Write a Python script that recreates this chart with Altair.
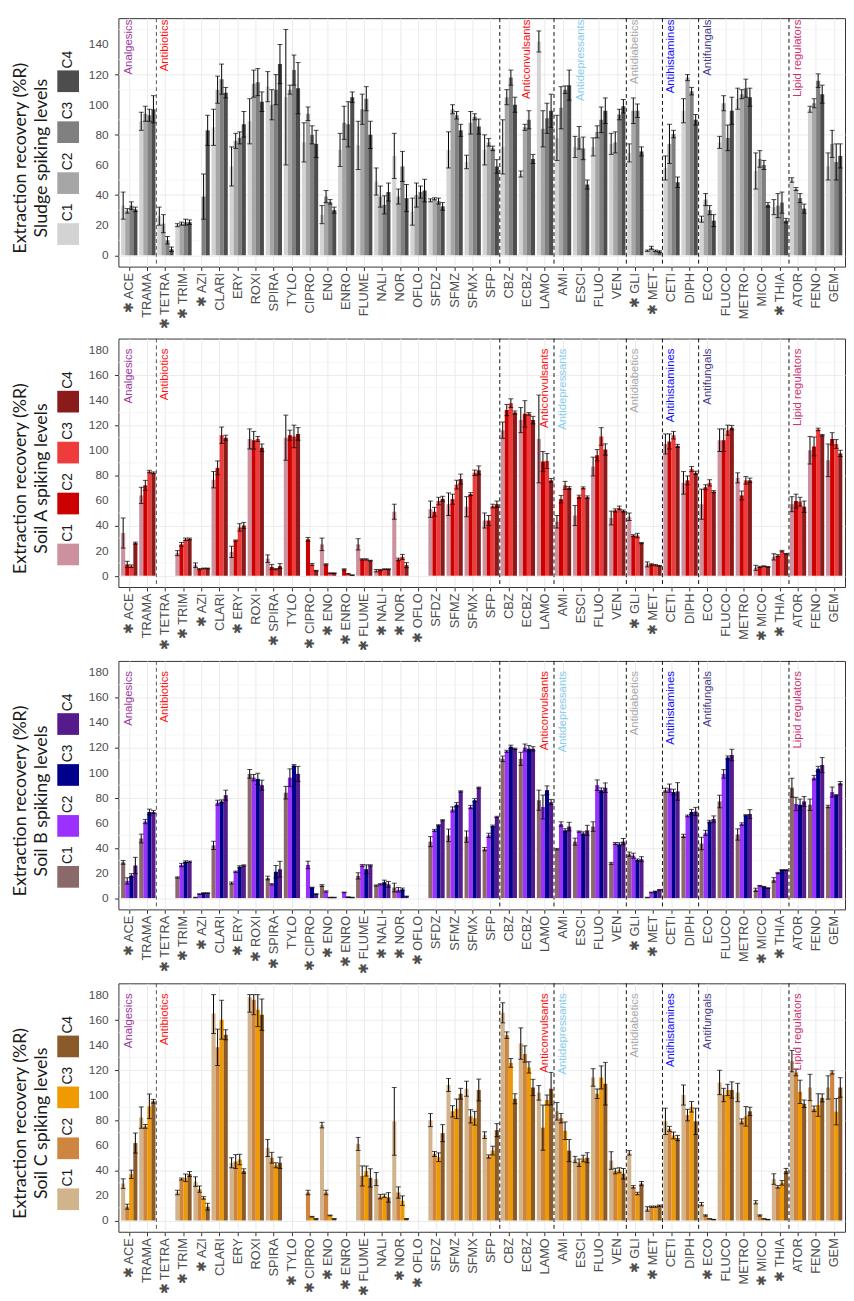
import altair as alt
import pandas as pd

COMPOUNDS = ["ACE", "TRAMA", "TETRA", "TRIM", "AZI", "CLARI", "ERY", "ROXI", "SPIRA", "TYLO",
             "CIPRO", "ENO", "ENRO", "FLUME", "NALI", "NOR", "OFLO", "SFDZ", "SFMZ", "SFMX",
             "SFP", "CBZ", "ECBZ", "LAMO", "AMI", "ESCI", "FLUO", "VEN", "GLI", "MET",
             "CETI", "DIPH", "ECO", "FLUCO", "METRO", "MICO", "THIA", "ATOR", "FENO", "GEM"]
LEVELS = ["C1", "C2", "C3", "C4"]

CLASS_NAMES = ["Analgesics", "Antibiotics", "Anticonvulsants", "Antidepressants",
               "Antidiabetics", "Antihistamines", "Antifungals", "Lipid regulators"]
CLASS_COLORS = ["#9C3A9C", "#FF1010", "#FF1010", "#87CEEB", "#A9A9A9", "#1010FF", "#483D8B", "#CD3278"]
CLASS_ANCHOR_SLUDGE = ["ACE", "TETRA", "ECBZ", "ESCI", "GLI", "CETI", "ECO", "ATOR"]
CLASS_ANCHOR_SOIL = ["ACE", "TETRA", "LAMO", "AMI", "GLI", "CETI", "ECO", "ATOR"]
BOUNDARIES = ["TETRA", "CBZ", "AMI", "GLI", "CETI", "ECO", "ATOR"]

# ---------------- Sludge ----------------
SLUDGE_C1 = [33, 89, 26, 20, None, 85, 59, 89, 112, 105, 75, 27, 70, 73, 49, 66, 29, 36.5, 70, 62,
             70, 72, 54, 142, 78, 72, 72, 74, 68, 3, 58, 96, 24, 75, 104, 56, 32, 50, 97, 59]
SLUDGE_C1_SD = [9, 6, 6, 1, None, 12, 13, 15, 10, 45, 13, 6, 11, 16, 9, 15, 9, 1, 12, 4.5,
                10, 18, 2, 7, 15, 7, 6, 7, 6, 0.5, 8, 8, 2, 4, 7, 12, 5, 1.5, 2, 9]
SLUDGE_C2 = [29.5, 94, 21, 21, None, 110, 76, 114, 100, 110, 94, 39, 88, 97, 39, 39, 40, 37.5, 97, 88,
             75, 105, 85, 84, 98, 78, 82, 75, 96, 5, 74, 118, 37, 101, 107, 64, 33, 44, 101, 74]
SLUDGE_C2_SD = [1.5, 5, 6, 1, None, 9, 5, 9, 10, 3, 4.5, 4, 11, 10, 7, 5, 8, 0.7, 3, 7.5,
                2.5, 5, 2, 12, 14, 7.5, 4, 7, 8.5, 1, 13, 2, 4, 5, 3, 5.5, 8, 1, 3, 9]
SLUDGE_C3 = [33, 93, 10, 22, 39, 117, 78, 115, 110, 123, 80, 35.5, 87, 104, 33.5, 59, 42, 36, 93, 92,
             71, 118, 90, 91, 110, 71, 90, 93.5, 96, 3, 80.5, 109, 30, 78, 111, 60, 35, 38, 116, 62]
SLUDGE_C3_SD = [2.5, 4, 2.5, 2, 15, 10, 4, 9, 10, 10, 6, 1.5, 15, 8, 6, 10, 4, 2, 2.5, 2,
                1.5, 5, 6, 10, 2.5, 7.5, 8.5, 3.5, 4.5, 0.5, 2.5, 2.5, 3, 8.5, 6, 3, 7, 3, 4.5, 12]
SLUDGE_C4 = [30.5, 97, 4, 22, 83, 108, 87, 102, 127, 111, 74, 30, 105, 80, 42, 38, 43, 32.5, 83, 85.5,
             59, 100, 64, 96, 113, 47, 96, 99, 69, 2.5, 48.5, 90, 23, 96, 105, 33.5, 23, 31, 107, 66]
SLUDGE_C4_SD = [1.5, 9, 1.5, 1.5, 10, 3.5, 8.5, 6.5, 13, 17, 9, 2, 3.5, 9, 6, 9, 7.5, 2.5, 4, 5,
                4.5, 5, 3, 11, 10, 3, 8.5, 4.5, 3, 0.5, 3.5, 3.5, 4, 9, 6, 1.5, 1.5, 3, 6, 8]
SLUDGE_STARS = ["ACE", "TETRA", "TRIM", "AZI", "GLI", "MET", "THIA"]
SLUDGE_COLORS = ["#D3D3D3", "#A6A6A6", "#808080", "#4D4D4D"]

# ---------------- Soil A ----------------
SOILA_C1 = [34, 64, None, 18, 8.4, 76.5, 19, 109, 13.6, 110, None, 25, None, 25, 4, 51, None, 53, 57, 55,
            44, 116, 124, 109, 43, 48, 87, 46, 47, 9, 105, 74, 57, 108, 78, 6.3, 15, 57, 100, 92]
SOILA_C1_SD = [12, 6.5, None, 2, 1.8, 6.5, 4.5, 8, 3, 18, None, 5, None, 4.5, 1, 6, None, 6.5, 9, 8,
               6, 6.5, 10, 35, 5, 8, 7.5, 5.5, 3, 2, 8, 9, 12, 9, 4, 2, 2.5, 6, 11, 13]
SOILA_C2 = [9, 72, None, 25, 5.2, 86, 28, 108, 7, 112, 29, 9, 5, 13, 4.5, 13, None, 51, 61, 65,
            44, 132, 129, 91, 61, 63, 96, 52, 32, 9, 107, 76, 70.5, 108, 64, 7, 16, 59.5, 103, 109]
SOILA_C2_SD = [2.5, 4, None, 1.5, 0.5, 5.5, 0.5, 7, 2, 4, 1.5, 0.5, 0.5, 0.5, 0.5, 1, None, 3.5, 4, 1.2,
               4, 4.5, 10.5, 8, 3, 1.2, 4.5, 1.3, 0.7, 0.5, 6, 3.5, 2, 9, 3.5, 0.5, 0.8, 5.5, 7.5, 5]
SOILA_C3 = [7.6, 83, None, 29, 5.8, 112, 38.5, 109, 5.2, 111, 9, 2, 1.5, 13, 5.2, 15, None, 59.5, 72.6, 82,
            55.5, 137.5, 129, 91.4, 72, 70, 111, 54, 32, 8.4, 112, 85, 74, 116, 76, 7.6, 19.6, 59, 116.6, 105]
SOILA_C3_SD = [1, 1, None, 1, 0.3, 6.5, 3, 2, 0.5, 9, 0.8, 0.3, 0.3, 0.5, 0.3, 2, None, 3, 3.5, 2.2,
               1.5, 3.5, 1, 6, 3.2, 0.8, 7, 1.5, 1.8, 0.5, 3, 2, 2.5, 4, 3, 0.3, 0.6, 3.5, 1, 3.5]
SOILA_C4 = [26, 82, None, 29.3, 5.8, 110, 40, 102, 7.6, 113, 4, 2, 0.5, 12, 5.2, 8.4, None, 61.3, 77, 84,
            57, 130, 124, 76, 70, 62.6, 100.6, 51.6, 26, 7.9, 103.5, 82, 67, 118, 76, 7, 17.5, 55, 112, 97.5]
SOILA_C4_SD = [0.8, 0.7, None, 0.7, 0.3, 2, 2.5, 3, 2, 5, 0.3, 0.3, 0.2, 0.3, 0.3, 2, None, 2, 4, 3.5,
               2.5, 1.3, 3, 1.5, 1, 1, 4.5, 0.8, 0.5, 0.3, 1.2, 1.3, 0.8, 1.8, 1.8, 0.3, 0.3, 4.5, 0.6, 2.5]
SOILA_STARS = ["ACE", "TETRA", "TRIM", "AZI", "ERY", "SPIRA", "CIPRO", "ENO", "ENRO", "FLUME",
               "NALI", "NOR", "OFLO", "GLI", "MET", "MICO", "THIA"]
SOILA_COLORS = ["#CD919E", "#CC0000", "#EE3B3B", "#8B1A1A"]

# ---------------- Soil B ----------------
SOILB_C1 = [28.5, 47.5, None, 16.4, 0.5, 42, 12, 99, 16, 84, None, 10, None, 17.7, 10, 8.4, None, 45, 50, 49,
            39, 111, 111, 78, 39, 45, 57, 27.7, 35, 0.5, 86, 49.6, 43.5, 77, 50.7, 6.6, 14.5, 88, 74.4, 73]
SOILB_C1_SD = [1.5, 3.5, None, 0.5, 0.2, 3.3, 0.8, 3.5, 1.5, 5, None, 0.7, None, 2.5, 0.5, 3.5, None, 4, 5, 4.5,
               1.3, 2.2, 5.2, 8, 0.6, 2.8, 3.8, 0.8, 1.7, 0.2, 1.6, 1.3, 5, 5, 4.5, 1.3, 1.8, 7.5, 4.5, 1]
SOILB_C2 = [13.7, 61, None, 26.4, 3.2, 76, 21, 96, 11, 96, 26.4, 5.3, 4.5, 26, 11, 6.6, None, 54, 70.7, 72.6,
            50, 117, 120, 72.6, 59, 53, 90, 43.5, 33.8, 4.5, 87.6, 65.5, 52, 99, 59, 9.8, 20, 75, 96, 84.5]
SOILB_C2_SD = [2.5, 1.7, None, 1.3, 0.3, 2, 0.5, 2.5, 0.5, 7, 3, 0.5, 0.3, 0.7, 0.5, 1.8, None, 0.8, 2, 1.3,
               1.7, 0.8, 2.8, 9.5, 1.8, 0.5, 4.2, 0.8, 2, 0.3, 3.3, 0.7, 2, 3.4, 1, 0.3, 0.5, 5.3, 1.8, 4]
SOILB_C3 = [18, 68.6, None, 29, 4, 77, 25, 95, 21, 105.6, 8.4, 0.5, 0.8, 23, 12.7, 7, None, 58, 74.4, 78,
            57.5, 120.6, 119, 86, 54, 51.5, 86, 42.8, 30.4, 5.3, 84.5, 68.6, 61, 112, 66, 9, 22.4, 74.4, 103, 82]
SOILB_C3_SD = [1.5, 2.3, None, 0.7, 0.3, 1.3, 0.8, 4.5, 5, 0.8, 0.3, 0.2, 0.2, 3.5, 1.6, 1, None, 0.5, 1.7, 1.3,
               0.7, 1.3, 2.6, 3.4, 1.3, 1.3, 1.8, 1.3, 0.8, 0.3, 2.3, 2.1, 1, 1.3, 0.5, 0.3, 0.3, 4.5, 2, 0.5]
SOILB_C4 = [26, 68.6, None, 29, 4, 82, 26, 90, 23, 99, 3.2, 0.5, 0.5, 26, 11, 1.3, None, 62, 85, 88,
            64.7, 119, 119, 76.5, 57, 54, 88, 45, 31, 6.6, 85, 69, 63, 114, 67, 8, 22.4, 77, 106, 91.6]
SOILB_C4_SD = [6.5, 1.3, None, 0.5, 0.3, 4, 0.5, 4, 6.3, 6, 0.3, 0.2, 0.2, 0.5, 2.3, 0.3, None, 0.5, 0.5, 0.5,
               0.5, 0.5, 1.7, 2, 3.4, 4, 3.8, 2.5, 2, 0.3, 7, 3.3, 2.5, 4.6, 3.5, 0.3, 0.3, 4, 6, 1.3]
SOILB_STARS = ["ACE", "TETRA", "TRIM", "AZI", "ERY", "ROXI", "SPIRA", "CIPRO", "ENO", "ENRO", "FLUME",
               "NALI", "NOR", "OFLO", "GLI", "MET", "MICO", "THIA"]
SOILB_COLORS = ["#8B6969", "#9B30FF", "#00008B", "#551A8B"]

# ---------------- Soil C ----------------
SOILC_C1 = [29.4, 82, None, 22.3, 31, 165, 46, 178, 57.8, None, None, 76, None, 61, 33, 79, None, 80, 108, 105,
            68, 165.5, 141, 101.7, 87, 48.6, 114, 47.8, 53.9, 9.2, 79, 100, 13, 110, 102, 14.5, 33, 127, 106, 106]
SOILC_C1_SD = [3.8, 8.5, None, 1.8, 3.8, 16, 4, 12, 6.8, None, None, 2.2, None, 5.2, 5.2, 27, None, 5.2, 5.2, 6,
               2.7, 8, 12.5, 5.8, 7, 2.5, 7, 7, 1.8, 1.8, 10.5, 8, 1.3, 9.7, 7.3, 1.3, 4.2, 8.5, 10.5, 9.3]
SOILC_C2 = [11, 75, None, 33, 25, 138, 47, 176, 50, None, 22.3, 22.3, None, 35.5, 19, 22.3, None, 53, 87, 83,
            51, 147.7, 132.7, 74, 81.5, 46, 101, 39.4, 26.8, 11, 73, 84, 4, 100, 79, 4, 26.8, 118, 89, 118]
SOILC_C2_SD = [2, 1.5, None, 0.8, 2.5, 14.5, 5.5, 12, 4.3, None, 1.8, 1.8, None, 8, 1.8, 4.5, None, 2, 4.5, 5.3,
               1.3, 2.6, 6.5, 18, 3.8, 3, 3.8, 2.2, 1, 0.5, 2, 4.6, 0.5, 5.3, 2, 0.5, 1, 2.7, 2.2, 1.3]
SOILC_C3 = [36.8, 91, None, 34, 18, 160, 48.6, 168, 44, None, 3, 4, None, 39.4, 19.7, 15.8, None, 50.4, 89, 81.5,
            55.7, 125.6, 122, 96, 71.5, 49.4, 114, 40, 21.5, 11, 67.8, 90.6, 1.3, 104, 83, 1.3, 30, 102.5, 92, 86.7]
SOILC_C3_SD = [3.3, 9.8, None, 3, 1, 15.5, 4.2, 13.5, 2, None, 0.3, 0.3, None, 4, 1.3, 3.8, None, 3.5, 7.8, 5.5,
               3.5, 3.5, 4.5, 4, 7, 2.6, 9.2, 2, 1, 0.5, 2.7, 4.2, 0.2, 4.5, 7.8, 0.2, 1.8, 9.3, 9, 10.5]
SOILC_C4 = [61.7, 95, None, 37, 11, 148, 39.4, 164, 46, None, 1.3, 1.3, None, 34, 18.4, 1.3, None, 69.6, 101, 104,
            72, 97, 106, 105, 55.7, 50, 109, 37.3, 29.4, 11.8, 65.7, 79, 0.8, 104, 87, 0.8, 39.4, 93, 97.7, 106]
SOILC_C4_SD = [8, 1.5, None, 2, 2.7, 4, 1.8, 12.5, 4.5, None, 0.2, 0.2, None, 7.3, 3.8, 0.2, None, 6.8, 4.3, 8.7,
               5.2, 4, 6.5, 13, 8.8, 4, 17, 4.2, 1.7, 0.5, 2.1, 10.5, 0.1, 6.5, 3.3, 0.1, 2.1, 3, 3.2, 7.8]
SOILC_STARS = ["ACE", "TETRA", "TRIM", "AZI", "TYLO", "CIPRO", "ENO", "ENRO", "FLUME", "NOR", "OFLO",
               "GLI", "MET", "ECO", "MICO", "THIA"]
SOILC_COLORS = ["#D2B48C", "#CD853F", "#EE9A00", "#8B5A2B"]

SLUDGE_TICKS = [0, 20, 40, 60, 80, 100, 120, 140]
SLUDGE_MINOR = [10, 30, 50, 70, 90, 110, 130, 150]
SOIL_TICKS = [0, 20, 40, 60, 80, 100, 120, 140, 160, 180]
SOIL_MINOR = [10, 30, 50, 70, 90, 110, 130, 150, 170]

W = 737
H = 252
TXT = "#4D4D4D"


def make_panel(means, sds, colors, stars, title2, limit, ticks, minor, anchors, class_y):
    lo_dom = -0.05 * limit
    hi_dom = limit * 1.05
    rows = []
    for li, lev in enumerate(LEVELS):
        for ci, comp in enumerate(COMPOUNDS):
            m = means[li][ci]
            if m is None:
                continue
            s = sds[li][ci]
            rows.append(dict(compound=comp, level=lev, mean=m,
                             lo=m - s, hi=min(m + s, limit)))
    df = pd.DataFrame(rows)

    star_js = "[" + ",".join("'" + s + "'" for s in stars) + "]"
    label_expr = f"indexof({star_js}, datum.value) >= 0 ? '\u2731 ' + datum.value : datum.value"

    xscale = alt.Scale(domain=COMPOUNDS, paddingInner=0, paddingOuter=0.1)
    offscale = alt.Scale(domain=LEVELS, paddingInner=0, paddingOuter=0.22)
    yscale = alt.Scale(domain=[lo_dom, hi_dom], nice=False, zero=False)

    xaxis = alt.Axis(title=None, labelAngle=270, labelExpr=label_expr, labelFontSize=13,
                     labelFont="Liberation Sans", labelColor=TXT, tickColor="#333333",
                     tickSize=4, labelPadding=2, domain=False, grid=True, gridColor="#EBEBEB",
                     bandPosition=0.5, labelOverlap=False)
    # tick marks + grid only; the tick labels are drawn as a text layer below
    yaxis = alt.Axis(title=None, values=ticks, labels=False, tickColor="#333333", tickSize=4,
                     domain=False, grid=True, gridColor="#EBEBEB")

    minor_df = pd.DataFrame({"v": minor})
    minor_layer = alt.Chart(minor_df).mark_rule(color="#F2F2F2", strokeWidth=0.7).encode(
        y=alt.Y("v:Q", scale=yscale, axis=yaxis))

    tick_df = pd.DataFrame({"t": ticks})
    tick_labels = alt.Chart(tick_df).mark_text(align="right", baseline="middle", fontSize=12,
                                               font="Liberation Sans", color=TXT).encode(
        x=alt.value(-10), y=alt.Y("t:Q", scale=yscale, axis=yaxis), text="t:Q")

    xenc = alt.X("compound:N", scale=xscale, axis=xaxis, sort=COMPOUNDS)
    xoff = alt.XOffset("level:N", scale=offscale)

    bars = alt.Chart(df).mark_bar().encode(
        x=xenc, xOffset=xoff,
        y=alt.Y("mean:Q", scale=yscale, axis=yaxis),
        y2=alt.datum(0),
        color=alt.Color("level:N", scale=alt.Scale(domain=LEVELS, range=colors), legend=None),
    )
    err = alt.Chart(df).mark_rule(color="black", strokeWidth=1).encode(
        x=xenc, xOffset=xoff,
        y=alt.Y("lo:Q", scale=yscale, axis=yaxis), y2="hi:Q")
    cap_lo = alt.Chart(df).mark_tick(color="black", thickness=1, size=5, orient="horizontal").encode(
        x=xenc, xOffset=xoff, y=alt.Y("lo:Q", scale=yscale, axis=yaxis))
    cap_hi = alt.Chart(df).mark_tick(color="black", thickness=1, size=5, orient="horizontal").encode(
        x=xenc, xOffset=xoff, y=alt.Y("hi:Q", scale=yscale, axis=yaxis))

    bdf = pd.DataFrame({"compound": BOUNDARIES,
                        "col": ["#555555"] + ["#111111"] * (len(BOUNDARIES) - 1)})
    bounds = alt.Chart(bdf).mark_rule(strokeDash=[4, 3], strokeWidth=1).encode(
        x=alt.X("compound:N", scale=xscale, axis=xaxis, bandPosition=0, sort=COMPOUNDS),
        y=alt.value(0), y2=alt.value(H),
        color=alt.Color("col:N", scale=None))

    cdf = pd.DataFrame({"compound": anchors, "name": CLASS_NAMES, "col": CLASS_COLORS})
    classes = alt.Chart(cdf).mark_text(angle=270, align="right", baseline="middle",
                                       fontSize=11.5, font="Liberation Sans").encode(
        x=xenc,
        y=alt.datum(class_y),
        text="name:N",
        color=alt.Color("col:N", scale=None))

    main = alt.layer(minor_layer, bars, err, cap_lo, cap_hi, bounds, classes, tick_labels).properties(
        width=W, height=H,
        view=alt.ViewBackground(stroke="#333333", strokeWidth=1))

    leg_df = pd.DataFrame({"level": LEVELS, "col": colors})
    ly = alt.Y("level:N",
               scale=alt.Scale(type="point", domain=["C4", "C3", "C2", "C1"], range=[64, 219],
                               padding=0),
               axis=alt.Axis(title=["Extraction recovery (%R)", title2], labels=False, ticks=False,
                             domain=False, grid=False, titleFont="Lato", titleFontSize=18,
                             titleFontWeight="normal", titleColor="#1A1A1A", titlePadding=4,
                             titleLineHeight=21))
    squares = alt.Chart(leg_df).mark_square(size=484, opacity=1, filled=True).encode(
        x=alt.value(14), y=ly, color=alt.Color("col:N", scale=None))
    labs = alt.Chart(leg_df).mark_text(angle=270, align="left", baseline="middle", dx=13,
                                       fontSize=14, font="Liberation Sans", color="#1A1A1A").encode(
        x=alt.value(14), y=ly, text="level:N")
    legend = alt.layer(squares, labs).properties(
        width=28, height=H, view=alt.ViewBackground(stroke="transparent"))

    return alt.hconcat(legend, main, spacing=5).resolve_scale(
        y="independent", color="independent")


p1 = make_panel([SLUDGE_C1, SLUDGE_C2, SLUDGE_C3, SLUDGE_C4],
                [SLUDGE_C1_SD, SLUDGE_C2_SD, SLUDGE_C3_SD, SLUDGE_C4_SD],
                SLUDGE_COLORS, SLUDGE_STARS, "Sludge spiking levels", 150,
                SLUDGE_TICKS, SLUDGE_MINOR, CLASS_ANCHOR_SLUDGE, 156.5)
p2 = make_panel([SOILA_C1, SOILA_C2, SOILA_C3, SOILA_C4],
                [SOILA_C1_SD, SOILA_C2_SD, SOILA_C3_SD, SOILA_C4_SD],
                SOILA_COLORS, SOILA_STARS, "Soil A  spiking levels", 180,
                SOIL_TICKS, SOIL_MINOR, CLASS_ANCHOR_SOIL, 181)
p3 = make_panel([SOILB_C1, SOILB_C2, SOILB_C3, SOILB_C4],
                [SOILB_C1_SD, SOILB_C2_SD, SOILB_C3_SD, SOILB_C4_SD],
                SOILB_COLORS, SOILB_STARS, "Soil B  spiking levels", 180,
                SOIL_TICKS, SOIL_MINOR, CLASS_ANCHOR_SOIL, 181)
p4 = make_panel([SOILC_C1, SOILC_C2, SOILC_C3, SOILC_C4],
                [SOILC_C1_SD, SOILC_C2_SD, SOILC_C3_SD, SOILC_C4_SD],
                SOILC_COLORS, SOILC_STARS, "Soil C  spiking levels", 180,
                SOIL_TICKS, SOIL_MINOR, CLASS_ANCHOR_SOIL, 181)

chart = alt.vconcat(p1, p2, p3, p4, spacing=8).resolve_scale(
    y="independent", color="independent"
).properties(
    padding={"left": 3, "top": 0, "right": 0, "bottom": 0}
).configure(background="white")

chart.save("out.html", embed_options={"renderer": "svg", "actions": False})
